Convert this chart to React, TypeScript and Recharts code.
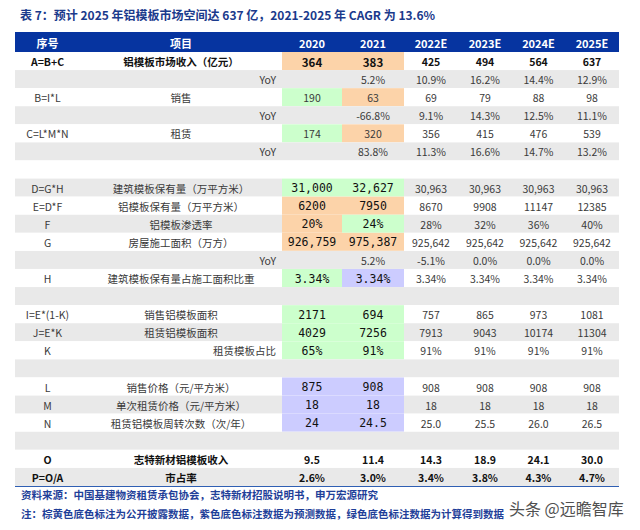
import React from 'react';
import { BarChart, Bar, XAxis, YAxis } from 'recharts';

const title = '表 7：预计 2025 年铝模板市场空间达 637 亿，2021-2025 年 CAGR 为 13.6%';
const sourceNote = '资料来源：中国基建物资租赁承包协会，志特新材招股说明书，申万宏源研究';
const colorNote = '注：棕黄色底色标注为公开披露数据，紫色底色标注数据为预测数据，绿色底色标注数据为计算得到数据';
const watermark = '头条 @远瞻智库';

const headers = ['序号', '项目', '2020', '2021', '2022E', '2023E', '2024E', '2025E'];

const rowIds = [
  'A=B+C', '', 'B=I*L', '', 'C=L*M*N', '', '',
  'D=G*H', 'E=D*F', 'F', 'G', '', 'H', '',
  'I=E*(1-K)', 'J=E*K', 'K', '',
  'L', 'M', 'N', '', 'O', 'P=O/A',
];

const rowItems = [
  '铝模板市场收入（亿元）', 'YoY', '销售', 'YoY', '租赁', 'YoY', '',
  '建筑模板保有量（万平方米）', '铝模板保有量（万平方米）', '铝模板渗透率', '房屋施工面积（万方）', 'YoY', '建筑模板保有量占施工面积比重', '',
  '销售铝模板面积', '租赁铝模板面积', '租赁模板占比', '',
  '销售价格（元/平方米）', '单次租赁价格（元/平方米）', '租赁铝模板周转次数（次/年）', '', '志特新材铝模板收入', '市占率',
];

const v2020 = ['364', '', '190', '', '174', '', '', '31,000', '6200', '20%', '926,759', '', '3.34%', '', '2171', '4029', '65%', '', '875', '18', '24', '', '9.5', '2.6%'];
const v2021 = ['383', '5.2%', '63', '-66.8%', '320', '83.8%', '', '32,627', '7950', '24%', '975,387', '5.2%', '3.34%', '', '694', '7256', '91%', '', '908', '18', '24.5', '', '11.4', '3.0%'];
const v2022 = ['425', '10.9%', '69', '9.1%', '356', '11.3%', '', '30,963', '8670', '28%', '925,642', '-5.1%', '3.34%', '', '757', '7913', '91%', '', '908', '18', '25.0', '', '14.3', '3.4%'];
const v2023 = ['494', '16.2%', '79', '14.3%', '415', '16.6%', '', '30,963', '9908', '32%', '925,642', '0.0%', '3.34%', '', '865', '9043', '91%', '', '908', '18', '25.5', '', '18.9', '3.8%'];
const v2024 = ['564', '14.4%', '88', '12.5%', '476', '14.7%', '', '30,963', '11147', '36%', '925,642', '0.0%', '3.34%', '', '973', '10174', '91%', '', '908', '18', '26.0', '', '24.1', '4.3%'];
const v2025 = ['637', '12.9%', '98', '11.1%', '539', '13.2%', '', '30,963', '12385', '40%', '925,642', '0.0%', '3.34%', '', '1081', '11304', '91%', '', '908', '18', '26.5', '', '30.0', '4.7%'];

// d = 公开披露, p = 预测, c = 计算得到
const src2020 = ['d', '', 'c', '', 'c', '', '', 'c', 'd', 'd', 'd', '', 'c', '', 'c', 'c', 'c', '', 'p', 'p', 'p', '', '', ''];
const src2021 = ['d', '', 'd', '', 'd', '', '', 'c', 'd', 'c', 'd', '', 'p', '', 'c', 'c', 'c', '', 'p', 'p', 'p', '', '', ''];

// layout / style
const FONT = "'Noto Sans CJK SC', 'Noto Sans', sans-serif";
const MONO = "'DejaVu Sans Mono', monospace";
const colWidths = [65, 202, 60, 62, 54, 54, 53, 54];
const srcColors: Record<string, string> = { d: '#fcd3a9', p: '#ccccff', c: '#ccffcc' };
const boldRows = [0, 22, 23];
const rightAligned = [1, 3, 5, 11, 16];

const yearValues = [v2020, v2021, v2022, v2023, v2024, v2025];
const yearSources = [src2020, src2021];

const rows = rowIds.map((id, i) => ({
  i,
  id,
  item: rowItems[i],
  vals: yearValues.map((v) => v[i]),
  srcs: yearSources.map((s) => s[i]),
}));

const colEdges = colWidths.reduce<number[]>((acc, w) => [...acc, acc[acc.length - 1] + w], [0]);
const colCenters = colWidths.map((w, c) => colEdges[c] + w / 2);

const HeaderTick = (props: any) => {
  const { x, y, index } = props;
  const w = colWidths[index];
  return (
    <g>
      <rect x={x - w / 2} y={y - 20} width={w} height={20} fill="#0634a0" />
      <text x={x} y={y - 9.5} textAnchor="middle" dominantBaseline="central" fill="#fff" fontSize={11} fontWeight={700} fontFamily={FONT}>
        {headers[index]}
      </text>
    </g>
  );
};

const makeCell = (col: number) => (props: any) => {
  const { x, y, width, height, payload } = props;
  const r = payload;
  const src = col >= 2 && col <= 3 ? r.srcs[col - 2] : '';
  const bg = src ? srcColors[src] : r.i % 2 === 0 ? '#ffffff' : '#e9e9e9';
  const text = col === 0 ? r.id : col === 1 ? r.item : r.vals[col - 2];
  const bold = boldRows.includes(r.i);
  const mono = !!src && r.i >= 7;
  const right = col === 1 && rightAligned.includes(r.i);
  let size = 10.5;
  let family = FONT;
  let fill = '#3a3a3a';
  if (bold) fill = '#111';
  if (bold && src) size = 11.5;
  if (mono) {
    family = MONO;
    size = 11.5;
    fill = '#111';
  }
  return (
    <g>
      <rect x={x} y={y} width={width} height={height} fill={bg} />
      {text ? (
        <text
          x={right ? x + width - 6 : x + width / 2}
          y={y + height / 2 + 0.5}
          textAnchor={right ? 'end' : 'middle'}
          dominantBaseline="central"
          fontFamily={family}
          fontSize={size}
          fontWeight={bold ? 700 : 400}
          fill={fill}
        >
          {text}
        </text>
      ) : null}
    </g>
  );
};

export default function App() {
  return (
    <div style={{ position: 'absolute', left: 0, top: 0, width: 640, height: 530, background: '#fff', fontFamily: FONT }}>
      <div style={{ position: 'absolute', left: 20, top: 6, fontSize: 12, fontWeight: 700, color: '#1a3a8c', whiteSpace: 'nowrap' }}>
        {title}
      </div>
      <BarChart
        width={640}
        height={530}
        data={rows}
        layout="vertical"
        margin={{ top: 32, right: 21, bottom: 44, left: 15 }}
        barCategoryGap={0}
        barGap={0}
      >
        <XAxis
          type="number"
          orientation="top"
          domain={[0, colEdges[colEdges.length - 1]]}
          ticks={colCenters}
          interval={0}
          height={20}
          tickSize={0}
          tickMargin={0}
          axisLine={false}
          tickLine={false}
          tick={<HeaderTick />}
        />
        <YAxis type="category" dataKey="i" hide />
        {colWidths.map((w, c) => (
          <Bar
            key={c}
            dataKey={() => w}
            stackId="table"
            shape={makeCell(c)}
            isAnimationActive={false}
          />
        ))}
      </BarChart>
      <div style={{ position: 'absolute', left: 15, top: 485.5, width: 604, height: 1.5, background: '#2f5fb3' }} />
      <div style={{ position: 'absolute', left: 21, top: 487, fontSize: 10.5, fontWeight: 700, color: '#1f3f99', whiteSpace: 'nowrap' }}>
        {sourceNote}
      </div>
      <div style={{ position: 'absolute', left: 21, top: 506, fontSize: 10.5, fontWeight: 700, color: '#1f3f99', whiteSpace: 'nowrap' }}>
        {colorNote}
      </div>
      <div style={{ position: 'absolute', left: 509, top: 496, fontSize: 16, color: '#505050', whiteSpace: 'nowrap' }}>
        {watermark}
      </div>
    </div>
  );
}
